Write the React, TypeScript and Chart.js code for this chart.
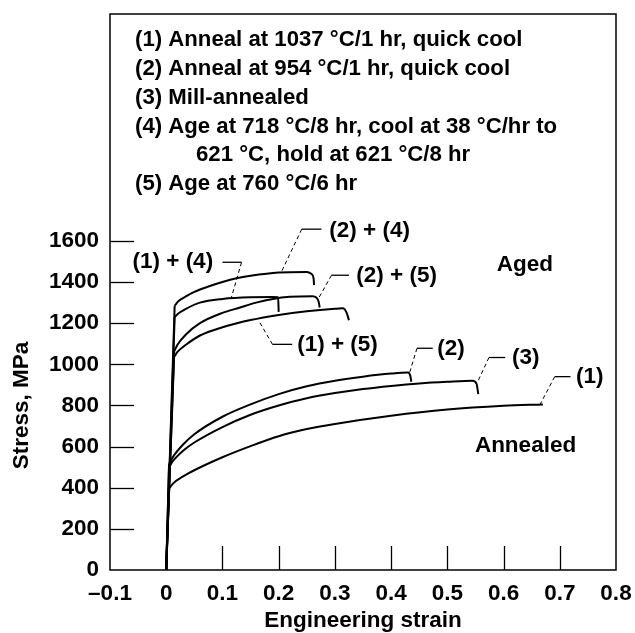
import React, { useEffect, useRef } from 'react';
import { Chart, registerables } from 'chart.js';

Chart.register(...registerables);

// ---------- axis ticks ----------
const xTickValues = [-0.1, 0, 0.1, 0.2, 0.3, 0.4, 0.5, 0.6, 0.7, 0.8];
const xTickLabels = ['\u20130.1', '0', '0.1', '0.2', '0.3', '0.4', '0.5', '0.6', '0.7', '0.8'];
const yTickValues = [0, 200, 400, 600, 800, 1000, 1200, 1400, 1600];

// origin of every test (elastic line starts here)
const originStrain = 0;
const originStress = 0;

// ---------- annealed curves (plastic part, from yield point) ----------
const strainAnn1 = [0.005, 0.012, 0.03, 0.05, 0.1, 0.15, 0.2, 0.25, 0.3, 0.4, 0.5, 0.6, 0.67];
const stressAnn1 = [395, 420, 455, 485, 548, 602, 650, 685, 710, 750, 780, 798, 805];

const strainAnn2 = [0.005, 0.012, 0.03, 0.05, 0.1, 0.15, 0.2, 0.25, 0.3, 0.35, 0.4, 0.43, 0.434, 0.436];
const stressAnn2 = [515, 550, 610, 660, 745, 805, 855, 893, 920, 940, 955, 960, 945, 915];

const strainAnn3 = [0.005, 0.012, 0.03, 0.05, 0.1, 0.15, 0.2, 0.25, 0.3, 0.35, 0.4, 0.45, 0.5, 0.545, 0.552, 0.555];
const stressAnn3 = [500, 530, 580, 620, 695, 755, 800, 835, 860, 880, 895, 907, 915, 920, 905, 855];

// ---------- aged curves (plastic part, from yield point) ----------
const strainAged24 = [0.015, 0.022, 0.035, 0.05, 0.075, 0.1, 0.125, 0.15, 0.2, 0.25, 0.258, 0.262, 0.263];
const stressAged24 = [1285, 1308, 1330, 1352, 1378, 1400, 1418, 1430, 1446, 1449, 1440, 1420, 1385];

const strainAged14 = [0.015, 0.022, 0.035, 0.06, 0.1, 0.15, 0.19, 0.199, 0.2];
const stressAged14 = [1230, 1248, 1270, 1300, 1318, 1326, 1327, 1326, 1255];

const strainAged25 = [0.014, 0.02, 0.035, 0.06, 0.1, 0.13, 0.16, 0.19, 0.22, 0.26, 0.267, 0.271, 0.273];
const stressAged25 = [1062, 1095, 1145, 1200, 1250, 1275, 1300, 1318, 1328, 1331, 1325, 1305, 1276];

const strainAged15 = [0.014, 0.02, 0.035, 0.06, 0.1, 0.15, 0.2, 0.25, 0.3, 0.314, 0.321, 0.325];
const stressAged15 = [1035, 1060, 1095, 1140, 1180, 1215, 1240, 1258, 1270, 1272, 1250, 1214];

// ---------- text ----------
const legendLines = [
  '(1) Anneal at 1037 \u00B0C/1 hr, quick cool',
  '(2) Anneal at 954 \u00B0C/1 hr, quick cool',
  '(3) Mill-annealed',
  '(4) Age at 718 \u00B0C/8 hr, cool at 38 \u00B0C/hr to',
  '621 \u00B0C, hold at 621 \u00B0C/8 hr',
  '(5) Age at 760 \u00B0C/6 hr',
];
const legendIndented = [false, false, false, false, true, false];

const calloutTexts = ['(2) + (4)', '(1) + (4)', '(2) + (5)', '(1) + (5)', '(2)', '(3)', '(1)'];
// label anchor (left edge of text) in data units
const calloutTextAt = [
  [0.29, 1650], [-0.06, 1496], [0.338, 1430], [0.233, 1093], [0.482, 1075], [0.615, 1030], [0.729, 937],
];
// solid segment and dashed leader (data units)
const calloutSolid = [
  [[0.241, 1657], [0.276, 1657]],
  [[0.1, 1496], [0.134, 1496]],
  [[0.294, 1433], [0.325, 1433]],
  [[0.189, 1097], [0.224, 1097]],
  [[0.446, 1078], [0.474, 1078]],
  [[0.574, 1033], [0.603, 1033]],
  [[0.691, 940], [0.719, 940]],
];
const calloutDashed = [
  [[0.241, 1657], [0.205, 1450]],
  [[0.134, 1496], [0.116, 1326]],
  [[0.294, 1433], [0.272, 1326]],
  [[0.189, 1097], [0.166, 1205]],
  [[0.446, 1078], [0.433, 960]],
  [[0.574, 1033], [0.555, 921]],
  [[0.691, 940], [0.665, 805]],
];
const regionLabels = ['Aged', 'Annealed'];
const regionLabelAt = [[0.588, 1486], [0.549, 606]];

const FONT = '"Liberation Sans", Arial, sans-serif';
const FS = 22.5;
const FS_LEGEND = 22.2;

function toPoints(xs: number[], ys: number[]) {
  return xs.map((x, i) => ({ x, y: ys[i] }));
}

const overlayPlugin = {
  id: 'overlay',
  afterDatasetsDraw(chart: any) {
    const { ctx, chartArea, scales } = chart;
    const xs = scales.x;
    const ys = scales.y;
    const { left, right, top, bottom } = chartArea;
    ctx.save();
    ctx.strokeStyle = '#000';
    ctx.fillStyle = '#000';
    // frame
    ctx.lineWidth = 1.5;
    ctx.strokeRect(left, top, right - left, bottom - top);
    // inward ticks
    ctx.lineWidth = 1.3;
    yTickValues.forEach((v) => {
      if (v === 0) return;
      const py = Math.round(ys.getPixelForValue(v)) + 0.5;
      ctx.beginPath();
      ctx.moveTo(left, py);
      ctx.lineTo(left + 24, py);
      ctx.stroke();
    });
    xTickValues.forEach((v, i) => {
      if (i === 0 || i === xTickValues.length - 1) return;
      const px = Math.round(xs.getPixelForValue(v)) + 0.5;
      ctx.beginPath();
      ctx.moveTo(px, bottom);
      ctx.lineTo(px, bottom - 24);
      ctx.stroke();
    });
    // axis titles
    ctx.font = `bold ${FS}px ${FONT}`;
    ctx.textAlign = 'center';
    ctx.textBaseline = 'middle';
    ctx.fillText('Engineering strain', (left + right) / 2, 621);
    const yMid = (ys.getPixelForValue(0) + ys.getPixelForValue(1600)) / 2;
    ctx.save();
    ctx.translate(22, yMid);
    ctx.rotate(-Math.PI / 2);
    ctx.fillText('Stress, MPa', 0, 0);
    ctx.restore();
    // legend text block
    ctx.textAlign = 'left';
    ctx.font = `bold ${FS_LEGEND}px ${FONT}`;
    legendLines.forEach((t, i) => {
      const x = left + (legendIndented[i] ? 86 : 25);
      const y = top + 26 + i * 28.8;
      ctx.fillText(t, x, y);
    });
    ctx.font = `bold ${FS}px ${FONT}`;
    // callouts
    calloutTexts.forEach((t, i) => {
      const [tx, ty] = calloutTextAt[i];
      ctx.fillText(t, xs.getPixelForValue(tx), ys.getPixelForValue(ty));
      const s = calloutSolid[i];
      ctx.lineWidth = 1.3;
      ctx.setLineDash([]);
      ctx.beginPath();
      ctx.moveTo(xs.getPixelForValue(s[0][0]), ys.getPixelForValue(s[0][1]));
      ctx.lineTo(xs.getPixelForValue(s[1][0]), ys.getPixelForValue(s[1][1]));
      ctx.stroke();
      const d = calloutDashed[i];
      ctx.lineWidth = 1;
      ctx.setLineDash([4, 3]);
      ctx.beginPath();
      ctx.moveTo(xs.getPixelForValue(d[0][0]), ys.getPixelForValue(d[0][1]));
      ctx.lineTo(xs.getPixelForValue(d[1][0]), ys.getPixelForValue(d[1][1]));
      ctx.stroke();
      ctx.setLineDash([]);
    });
    regionLabels.forEach((t, i) => {
      const [tx, ty] = regionLabelAt[i];
      ctx.fillText(t, xs.getPixelForValue(tx), ys.getPixelForValue(ty));
    });
    ctx.restore();
  },
};

export default function App() {
  const ref = useRef<HTMLCanvasElement | null>(null);
  useEffect(() => {
    document.body.style.margin = '0';
    const canvas = ref.current;
    if (!canvas) return;
    const curves = [
      toPoints(strainAnn1, stressAnn1),
      toPoints(strainAnn2, stressAnn2),
      toPoints(strainAnn3, stressAnn3),
      toPoints(strainAged24, stressAged24),
      toPoints(strainAged14, stressAged14),
      toPoints(strainAged25, stressAged25),
      toPoints(strainAged15, stressAged15),
    ];
    const plastic = curves.map((pts) => ({
      data: pts,
      borderColor: '#000',
      borderWidth: 2,
      pointRadius: 0,
      fill: false,
      cubicInterpolationMode: 'monotone' as const,
    }));
    const elastic = curves.map((pts) => ({
      data: [{ x: originStrain, y: originStress }, pts[0]],
      borderColor: '#000',
      borderWidth: 2,
      pointRadius: 0,
      fill: false,
      tension: 0,
    }));
    const chart = new Chart(canvas, {
      type: 'line',
      data: { datasets: [...elastic, ...plastic] },
      options: {
        responsive: false,
        animation: false,
        devicePixelRatio: 1,
        parsing: false as any,
        layout: { padding: { top: 14, right: 19, left: 0, bottom: 0 } },
        plugins: { legend: { display: false }, tooltip: { enabled: false } },
        scales: {
          x: {
            type: 'linear',
            min: -0.1,
            max: 0.8,
            grid: { display: false, drawTicks: false },
            border: { display: false },
            afterBuildTicks: (axis: any) => {
              axis.ticks = xTickValues.map((v) => ({ value: v }));
            },
            afterFit: (axis: any) => {
              axis.height = 63;
              axis.paddingLeft = 0;
              axis.paddingRight = 0;
            },
            ticks: {
              autoSkip: false,
              maxRotation: 0,
              padding: 10,
              color: '#000',
              font: { family: FONT, size: FS, weight: 'bold' },
              callback: (_v: any, i: number) => xTickLabels[i],
            },
          },
          y: {
            type: 'linear',
            min: 0,
            max: 2703,
            grid: { display: false, drawTicks: false },
            border: { display: false },
            afterBuildTicks: (axis: any) => {
              axis.ticks = yTickValues.map((v) => ({ value: v }));
            },
            afterFit: (axis: any) => {
              axis.width = 110;
              axis.paddingTop = 0;
              axis.paddingBottom = 0;
            },
            ticks: {
              autoSkip: false,
              padding: 11,
              color: '#000',
              font: { family: FONT, size: FS, weight: 'bold' },
              callback: (v: any) => String(v),
            },
          },
        },
      },
      plugins: [overlayPlugin],
    });
    return () => chart.destroy();
  }, []);
  return (
    <div style={{ width: 635, height: 633, background: '#fff' }}>
      <canvas ref={ref} width={635} height={633} />
    </div>
  );
}
